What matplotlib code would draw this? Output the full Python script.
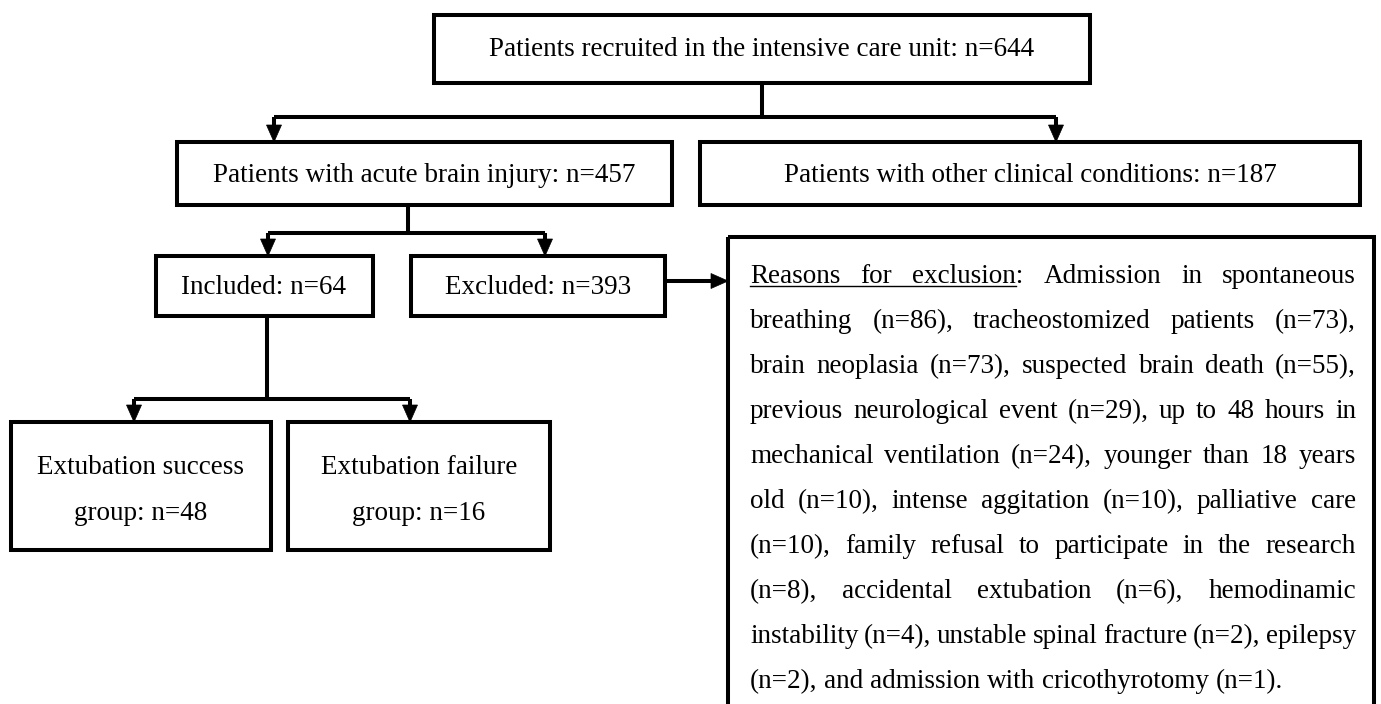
import matplotlib
matplotlib.use("Agg")
import matplotlib.pyplot as plt
from matplotlib.patches import Rectangle, Polygon

# flow counts
top_label = "Patients recruited in the intensive care unit"
top_n = 644
branch_labels = ["Patients with acute brain injury", "Patients with other clinical conditions"]
branch_n = [457, 187]
selection_labels = ["Included", "Excluded"]
selection_n = [64, 393]
outcome_labels = [["Extubation success", "group"], ["Extubation failure", "group"]]
outcome_n = [48, 16]

# exclusion reasons
reasons = ["Admission in spontaneous breathing", "tracheostomized patients", "brain neoplasia",
           "suspected brain death", "previous neurological event",
           "up to 48 hours in mechanical ventilation", "younger than 18 years old",
           "intense aggitation", "palliative care", "family refusal to participate in the research",
           "accidental extubation", "hemodinamic instability", "unstable spinal fracture",
           "epilepsy", "admission with cricothyrotomy"]
reason_n = [86, 73, 73, 55, 29, 24, 10, 10, 10, 8, 6, 4, 2, 2, 1]
words_per_line = [6, 5, 7, 9, 7, 7, 8, 5, 7, 6]

W, H = 1381, 704
FONT = "Liberation Serif"
LW = 2.9

fig = plt.figure(figsize=(W / 100, H / 100), dpi=100)
ax = fig.add_axes([0, 0, 1, 1])
ax.set_xlim(0, W)
ax.set_ylim(H, 0)
ax.axis("off")
renderer = fig.canvas.get_renderer()


def text_width(s, size):
    t = ax.text(0, 0, s, fontsize=size, family=FONT)
    w = t.get_window_extent(renderer).width
    t.remove()
    return w


top_text = f"{top_label}: n={top_n}"
fs = 14 * 549 / text_width(top_text, 14)


def box(x0, y0, x1, y1):
    ax.add_patch(Rectangle((x0, y0), x1 - x0, y1 - y0, fill=False, lw=LW, ec="black",
                           joinstyle="miter", clip_on=False))


def line(xs, ys):
    ax.plot(xs, ys, color="black", lw=LW, solid_capstyle="butt")


def arrow_down(x, y0, y1, hl=17, hw=7.5):
    line([x, x], [y0, y1 - hl + 1])
    ax.add_patch(Polygon([(x - hw, y1 - hl), (x + hw, y1 - hl), (x, y1)], closed=True,
                         fc="black", ec="black", lw=0.5))


def arrow_right(y, x0, x1, hl=17, hw=7.5):
    line([x0, x1 - hl + 1], [y, y])
    ax.add_patch(Polygon([(x1 - hl, y - hw), (x1 - hl, y + hw), (x1, y)], closed=True,
                         fc="black", ec="black", lw=0.5))


def label(x, y, s):
    ax.text(x, y, s, fontsize=fs, family=FONT, ha="center", va="center")


# top box
box(434, 15, 1090, 83)
label(762, 50, top_text)
line([762, 762], [83, 117])
line([274, 1056], [117, 117])
arrow_down(274, 117, 142)
arrow_down(1056, 117, 142)

# branch boxes
box(177, 142, 672, 205)
box(700, 142, 1360, 205)
label(424, 175, f"{branch_labels[0]}: n={branch_n[0]}")
label(1030, 175, f"{branch_labels[1]}: n={branch_n[1]}")
line([408, 408], [205, 233])
line([268, 545], [233, 233])
arrow_down(268, 233, 256)
arrow_down(545, 233, 256)

# included / excluded
box(156, 256, 373, 316)
box(411, 256, 665, 316)
label(264, 287, f"{selection_labels[0]}: n={selection_n[0]}")
label(538, 287, f"{selection_labels[1]}: n={selection_n[1]}")
arrow_right(281, 665, 728)

# outcome groups
line([267, 267], [316, 399])
line([134, 410], [399, 399])
arrow_down(134, 399, 422)
arrow_down(410, 399, 422)
box(11, 422, 271, 550)
box(288, 422, 550, 550)
for cx, parts, n in zip([141, 419], outcome_labels, outcome_n):
    label(cx, 468, parts[0])
    label(cx, 513, f"{parts[1]}: n={n}")

# exclusion reasons, justified paragraph
box(728, 237, 1374, 760)
items = [f"{r} (n={n})" for r, n in zip(reasons, reason_n)]
paragraph = "Reasons for exclusion: " + ", ".join(items[:-1]) + ", and " + items[-1] + "."
words = paragraph.split(" ")
left, right = 750, 1356
base0, step = 283, 45
i = 0
for k, nw in enumerate(words_per_line):
    lw_words = words[i:i + nw]
    i += nw
    widths = [text_width(w, fs) for w in lw_words]
    if k < len(words_per_line) - 1:
        gap = (right - left - sum(widths)) / (nw - 1)
    else:
        gap = text_width(" ", fs)
    x = left
    y = base0 + k * step
    for w, wd in zip(lw_words, widths):
        ax.text(x, y, w, fontsize=fs, family=FONT, ha="left", va="baseline")
        x += wd + gap
    if k == 0:
        # underline "Reasons for exclusion"
        x_end = left + widths[0] + widths[1] + 2 * gap + text_width("exclusion", fs)
        ax.plot([left, x_end], [y + 3, y + 3], color="black", lw=1.0)

fig.savefig("out.png", dpi=100)
